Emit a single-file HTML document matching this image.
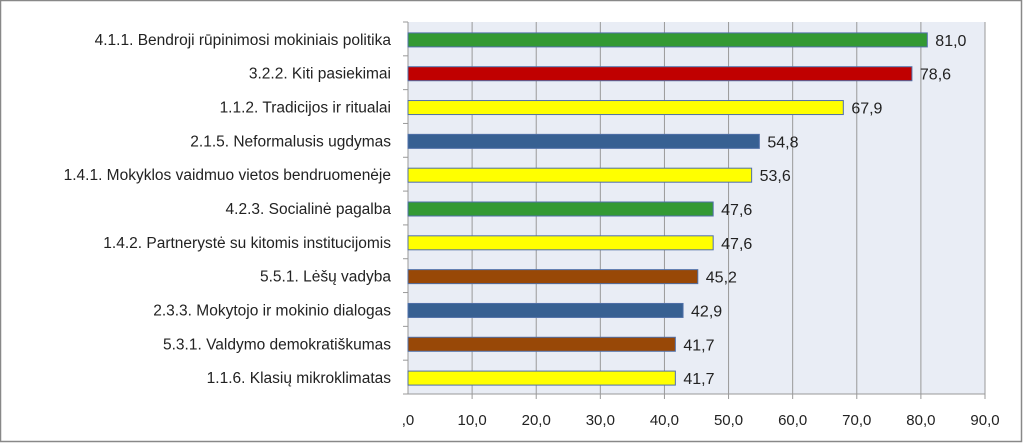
<!DOCTYPE html>
<html><head><meta charset="utf-8"><style>
html,body{margin:0;padding:0;background:#fff;}
svg{display:block;font-family:"Liberation Sans",sans-serif;}
</style></head><body>
<svg id="chart" width="1024" height="444" viewBox="0 0 1024 444">
<rect x="0.5" y="0.5" width="1021" height="441" fill="#fff" stroke="#888" stroke-width="1.5"/>
<rect x="408" y="22" width="577" height="372" fill="#e9edf5"/>
<g id="grid"></g><g id="bars"></g><g id="labels"></g><g id="xticks"></g>
</svg>
<script>
const categories=["4.1.1. Bendroji rūpinimosi mokiniais politika","3.2.2. Kiti pasiekimai","1.1.2. Tradicijos ir ritualai","2.1.5. Neformalusis ugdymas","1.4.1. Mokyklos vaidmuo vietos bendruomenėje","4.2.3. Socialinė pagalba","1.4.2. Partnerystė su kitomis institucijomis","5.5.1. Lėšų vadyba","2.3.3. Mokytojo ir mokinio dialogas","5.3.1. Valdymo demokratiškumas","1.1.6. Klasių mikroklimatas"];
const values=[81.0,78.6,67.9,54.8,53.6,47.6,47.6,45.2,42.9,41.7,41.7];
const colors=["#339933","#c00000","#ffff00","#376092","#ffff00","#339933","#ffff00","#984807","#376092","#984807","#ffff00"];
const xTicks=[0,10,20,30,40,50,60,70,80,90];
const xTickLabels=[",0","10,0","20,0","30,0","40,0","50,0","60,0","70,0","80,0","90,0"];
const L=408,R=985,T=22,B=394,NS="http://www.w3.org/2000/svg";
const x=v=>L+(v/90)*(R-L);
const band=(B-T)/categories.length;
const yc=i=>T+band*(i+0.5)+1;
function mk(tag,attrs,parent){const e=document.createElementNS(NS,tag);for(const k in attrs)e.setAttribute(k,attrs[k]);parent.appendChild(e);return e;}
const g=document.getElementById('grid'),gb=document.getElementById('bars'),gl=document.getElementById('labels'),gx=document.getElementById('xticks');
xTicks.forEach((t,i)=>{
 if(i>0){const l=mk('line',{x1:x(t),x2:x(t),y1:T,y2:B+5,stroke:'#999','stroke-width':1},g);
 
 }
 const tx=mk('text',{x:x(t),y:425,'text-anchor':'middle','font-size':15,fill:'#222'},gx);
 tx.textContent=xTickLabels[i];
 
 
});
const ax=mk('line',{x1:L,x2:L,y1:T,y2:B,stroke:'#999'},g);


const bx=mk('line',{x1:L,x2:R,y1:B,y2:B,stroke:'#999'},g);


for(let i=0;i<=categories.length;i++){const tk=mk('line',{x1:L-5,x2:L,y1:T+band*i,y2:T+band*i,stroke:'#999'},g);
 
 }
categories.forEach((c,i)=>{
 const r=mk('rect',{x:L,y:yc(i)-7,width:x(values[i])-L,height:14,fill:colors[i],stroke:'#4f6fa8','stroke-width':1},gb);
 
 
 const v=mk('text',{x:x(values[i])+8,y:yc(i)+6,'font-size':16,fill:'#222'},gb);
 v.textContent=values[i].toFixed(1).replace('.',',');
 
 
 const t=mk('text',{x:391,y:yc(i)+5,'text-anchor':'end','font-size':15.5,fill:'#222'},gl);
 t.textContent=c;
 
 
});
</script>
</body></html>
